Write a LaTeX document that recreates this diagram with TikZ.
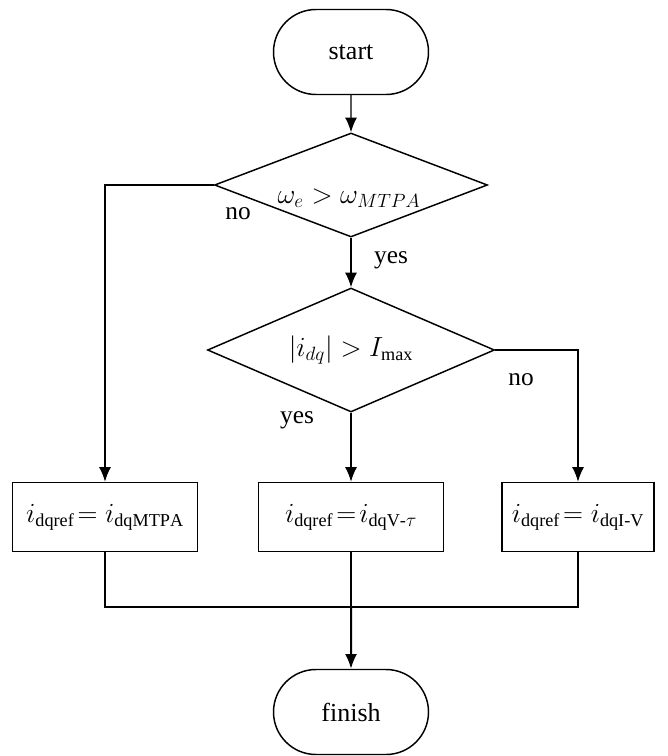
\documentclass[tikz,border=0pt]{standalone}
\usepackage{amsmath}
\usepackage{fontspec}
\setmainfont{Liberation Serif}
\usetikzlibrary{shapes.geometric,shapes.misc,arrows.meta}
\begin{document}
\begin{tikzpicture}[x=0.75pt,y=-0.75pt,
  every node/.style={font=\fontsize{19.5}{23}\selectfont},
  terminal/.style={draw,line width=1.1pt,rounded rectangle,minimum width=155*0.75pt,minimum height=85*0.75pt,inner sep=0pt},
  decision/.style={draw,line width=1.1pt,diamond,aspect=2.3,inner sep=0pt},
  process/.style={draw,line width=1.1pt,rectangle,minimum height=69*0.75pt,inner sep=0pt},
  flow/.style={line width=1.1pt,-{Latex[length=11pt,width=9pt]}},
  link/.style={line width=1.1pt},
  tag/.style={font=\fontsize{19}{22}\selectfont}]
\useasboundingbox (0,0) rectangle (667,756);

% start / finish terminals
\node[terminal] (start) at (351,52) {start};
\node[terminal] (finish) at (351,712) {finish};

% first decision: speed against MTPA limit
\node[decision,minimum width=273*0.75pt,minimum height=104*0.75pt] (d1) at (351,185) {};
\node (d1txt) at (349,198) {$\omega_e > \omega_{MTPA}$};

% second decision: current magnitude limit
\node[decision,minimum width=287*0.75pt,minimum height=124*0.75pt] (d2) at (351,350) {$\left|i_{dq}\right| > I_{\max}$};

% reference assignments
\node[process,minimum width=185*0.75pt] (b1) at (105,517) {$i_{\mathrm{dqref}}\!=i_{\mathrm{dqMTPA}}$};
\node[process,minimum width=185*0.75pt] (b2) at (351,517) {$i_{\mathrm{dqref}} \!=\!i_{\mathrm{dqV\text{-}}\tau}$};
\node[process,minimum width=152*0.75pt] (b3) at (578,517) {$i_{\mathrm{dqref}}\!=i_{\mathrm{dqI\text{-}V}}$};

% branch labels
\node[tag] (no1) at (238,214) {no};
\node[tag] (yes1) at (391,260) {yes};
\node[tag] (yes2) at (297,420) {yes};
\node[tag] (no2) at (521,380) {no};

% connectors
\draw[flow] (start) -- (d1);
\draw[flow] (d1) -- (d2);
\draw[flow] (d1.west) -| (b1.north);
\draw[flow] (d2) -- (b2);
\draw[flow] (d2.east) -| (b3.north);

\coordinate (join) at (351,607);
\draw[link] (b1.south) |- (join);
\draw[link] (b3.south) |- (join);
\draw[link,line width=1.4pt] (b2.south) -- (join);
\draw[flow,line width=1.5pt] (join) -- (finish);
\end{tikzpicture}
\end{document}
